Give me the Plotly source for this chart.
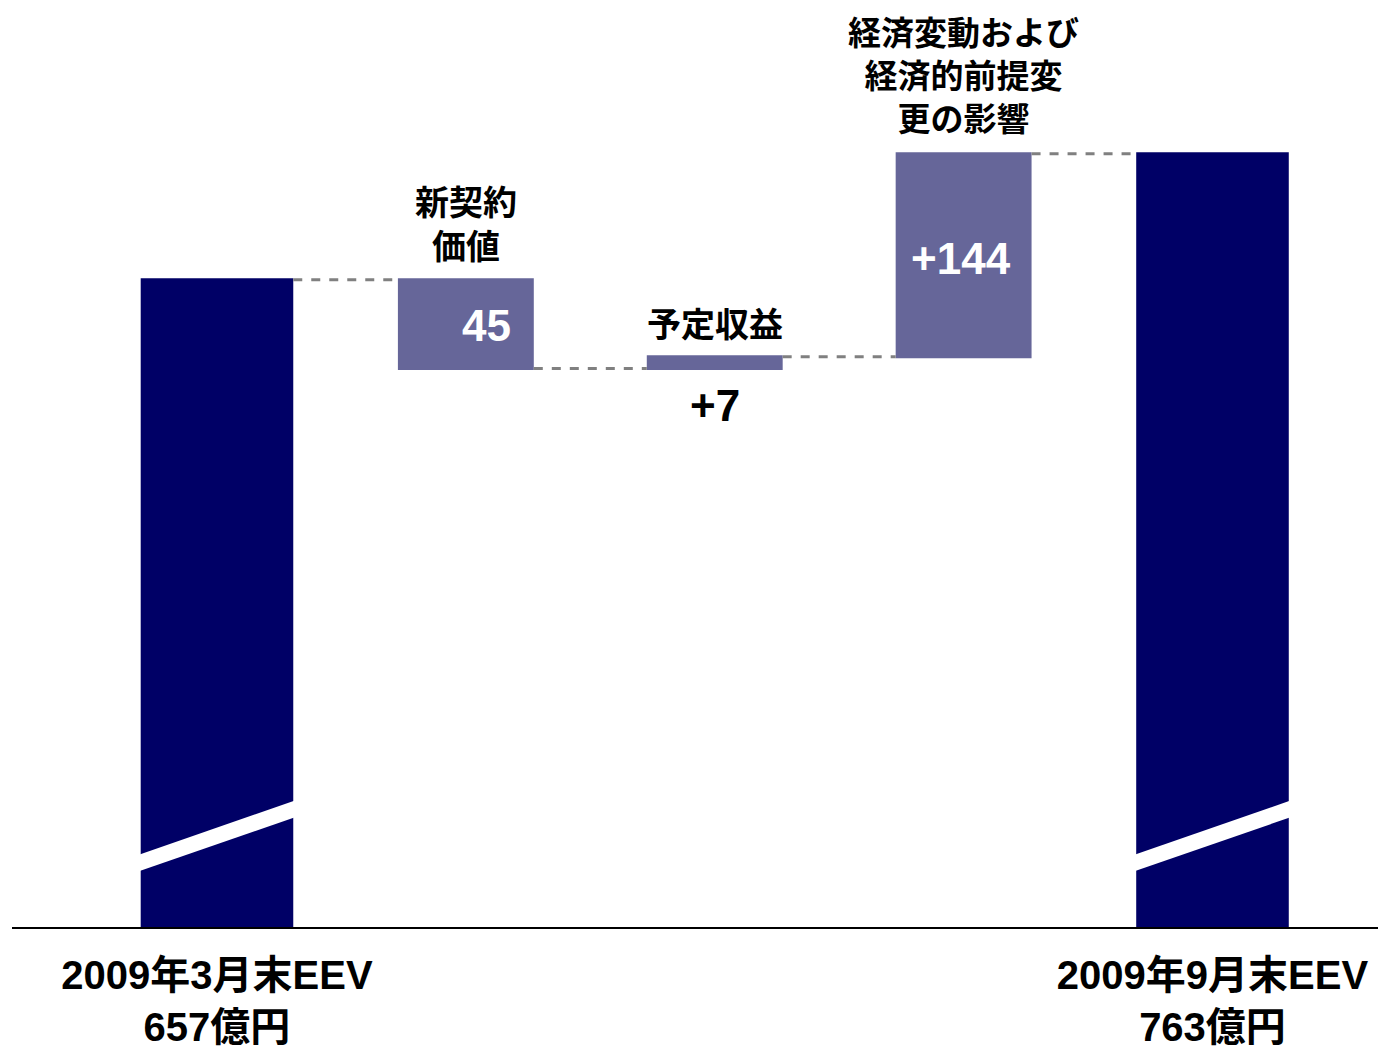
import plotly.graph_objects as go

# EEV の増減 (億円)
start_label = "2009年3月末EEV"
end_label = "2009年9月末EEV"
start_eev = 657
end_eev = 763

step_names = ["新契約<br>価値", "予定収益", "経済変動および<br>経済的前提変<br>更の影響"]
step_labels = ["45", "+7", "+144"]

# bar heights as drawn in the original slide (not to scale, end bars are broken)
drawn_start = 657
drawn_steps = [-90, 12, 206]

navy = "#000066"
step_color = "#666699"
font_family = "Liberation Sans, Arial, Noto Sans CJK JP"

x = [0, 1, 2, 3, 4]
widths = [0.613, 0.546, 0.546, 0.546, 0.613]
measure = ["absolute", "relative", "relative", "relative", "total"]
y_vals = [drawn_start] + drawn_steps + [0]

# running levels for placing the labels
levels = [drawn_start]
for s in drawn_steps:
    levels.append(levels[-1] + s)
levels.append(levels[-1])

fig = go.Figure()
fig.add_trace(go.Waterfall(
    x=x, y=y_vals, measure=measure, width=widths,
    totals=dict(marker=dict(color=navy, line=dict(width=0))),
    increasing=dict(marker=dict(color=step_color, line=dict(width=0))),
    decreasing=dict(marker=dict(color=step_color, line=dict(width=0))),
    connector=dict(mode="between", line=dict(color="#808080", width=3, dash="dash")),
    textinfo="none", hoverinfo="skip", showlegend=False,
))

# white diagonal break on the two EEV bars
for i in (0, 4):
    hw = widths[i] / 2 + 0.01
    lo_l, lo_r = 57.1, 110.8
    th = 16.9
    slope = (lo_r - lo_l) / widths[i]
    x0 = x[i] - hw
    x1 = x[i] + hw
    yl = lo_l - 0.01 * slope
    yr = lo_r + 0.01 * slope
    fig.add_shape(type="path",
                  path=f"M {x0},{yl} L {x1},{yr} L {x1},{yr + th} L {x0},{yl + th} Z",
                  xref="x", yref="y", fillcolor="white", line=dict(width=0), layer="above")

def note(xv, yv, text, size, color="black", yanchor="middle", xshift=0, yshift=0):
    fig.add_annotation(x=xv, y=yv, text=text, showarrow=False, xanchor="center",
                       yanchor=yanchor, xshift=xshift, yshift=yshift,
                       font=dict(family=font_family, size=size, color=color, weight="bold"))

# 新契約価値
note(1, levels[0], step_names[0], 34, yshift=55)
note(1, (levels[0] + levels[1]) / 2, step_labels[0], 44, color="white", xshift=21, yshift=-1)
# 予定収益
note(2, levels[2], step_names[1], 34, yshift=32)
note(2, levels[1], step_labels[1], 44, yshift=-37)
# 経済変動
note(3, levels[3], step_names[2], 33, yshift=77)
note(3, (levels[2] + levels[3]) / 2, step_labels[2], 44, color="white", xshift=-3, yshift=-3)

fig.update_xaxes(range=[-0.8236, 4.665], tickvals=[0, 4],
                 ticktext=[f"{start_label}<br>{start_eev}億円", f"{end_label}<br>{end_eev}億円"],
                 tickfont=dict(family=font_family, size=40, color="black", weight="bold"),
                 ticklabelstandoff=12,
                 showline=True, linecolor="black", linewidth=2, showgrid=False,
                 zeroline=False, ticks="")
fig.update_yaxes(range=[0, 938], visible=False, showgrid=False, zeroline=False)

fig.update_layout(width=1378, height=1049, margin=dict(l=12, r=0, t=3, b=115),
                  plot_bgcolor="white", paper_bgcolor="white",
                  font=dict(family=font_family))

fig.write_html("out.html", config={"displayModeBar": False},
               post_script="document.body.style.margin='0';")
